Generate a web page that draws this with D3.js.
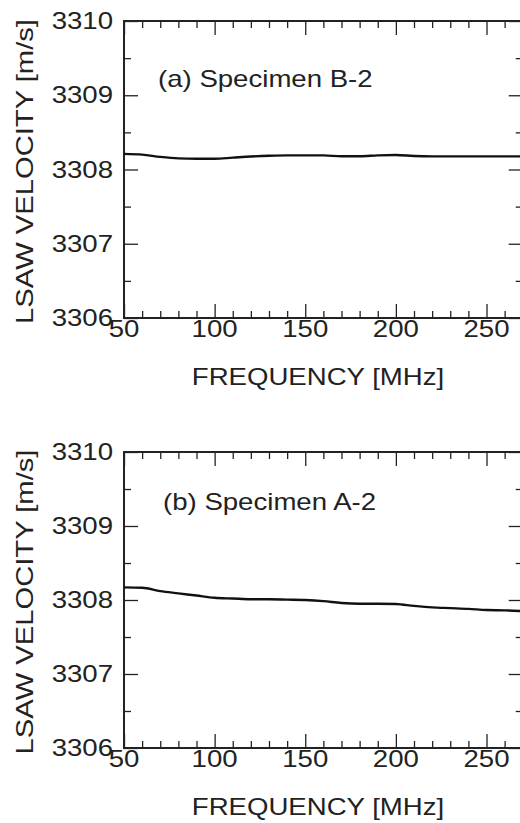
<!DOCTYPE html>
<html>
<head>
<meta charset="utf-8">
<script src="https://cdn.jsdelivr.net/npm/d3@7"></script>
<style>
  body { margin: 0; background: #fff; }
  svg { display: block; }
  text { font-family: "Liberation Sans", Arial, Helvetica, sans-serif; fill: #222; }
</style>
</head>
<body>
<div id="chart"></div>
<script>
// data
const freq = [50, 60, 70, 80, 90, 100, 110, 120, 130, 140, 150, 160, 170, 180, 190, 200, 210, 220, 230, 240, 250, 260, 270];
const velB2 = [3308.21, 3308.20, 3308.17, 3308.15, 3308.145, 3308.145, 3308.16, 3308.175, 3308.185, 3308.19, 3308.19, 3308.19, 3308.178,
  3308.178, 3308.19, 3308.195, 3308.182, 3308.177, 3308.177, 3308.177, 3308.177, 3308.177, 3308.177];
const velA2 = [3308.17, 3308.165, 3308.12, 3308.09, 3308.06, 3308.03, 3308.02, 3308.01, 3308.01, 3308.005, 3308.0, 3307.985, 3307.96,
  3307.95, 3307.95, 3307.945, 3307.92, 3307.90, 3307.89, 3307.88, 3307.865, 3307.86, 3307.85];
const xTicks = [50, 100, 150, 200, 250];
const xMinor = d3.range(60, 271, 10).filter(d => d % 50 != 0);
const yTicks = [3306, 3307, 3308, 3309, 3310];
const yMinor = [3306.5, 3307.5, 3308.5, 3309.5];

const panels = [
  {name: "(a) Specimen B-2", values: velB2, top: 21, bottom: 318, labelX: 158, labelDy: 66},
  {name: "(b) Specimen A-2", values: velA2, top: 452, bottom: 748, labelX: 163, labelDy: 58}
];

const W = 520, H = 823;
const left = 124, right = 522.75;
const fs = 23, sx = 1.2;   // the figure's font is wider than Arial

const svg = d3.select("#chart").append("svg")
  .attr("width", W)
  .attr("height", H);

const x = d3.scaleLinear().domain([50, 270]).range([left, right]);

function stretchedText(g, str, tx, ty, anchor, s) {
  return g.append("text")
    .attr("transform", "translate(" + tx + "," + ty + ") scale(" + (s || sx) + ",1)")
    .attr("text-anchor", anchor)
    .style("font-size", fs + "px")
    .text(str);
}

panels.forEach(p => {
  const y = d3.scaleLinear().domain([3306, 3310]).range([p.bottom, p.top]);
  const g = svg.append("g");

  // ticks, all pointing inward
  const addAxis = (axis, tx, ty) => {
    const a = g.append("g").attr("transform", "translate(" + tx + "," + ty + ")").call(axis);
    a.select(".domain").remove();
    a.selectAll("line").attr("stroke", "#222").attr("stroke-width", 1.3);
    a.selectAll("text").remove();
  };
  addAxis(d3.axisBottom(x).tickValues(xTicks).tickSize(-14), 0, p.bottom);
  addAxis(d3.axisBottom(x).tickValues(xMinor).tickSize(-7), 0, p.bottom);
  addAxis(d3.axisTop(x).tickValues(xTicks).tickSize(-14), 0, p.top);
  addAxis(d3.axisTop(x).tickValues(xMinor).tickSize(-7), 0, p.top);
  addAxis(d3.axisLeft(y).tickValues(yTicks).tickSize(-14), left, 0);
  addAxis(d3.axisLeft(y).tickValues(yMinor).tickSize(-7), left, 0);
  addAxis(d3.axisRight(y).tickValues(yTicks).tickSize(-14), right, 0);
  addAxis(d3.axisRight(y).tickValues(yMinor).tickSize(-7), right, 0);

  // frame
  g.append("rect")
    .attr("x", left).attr("y", p.top)
    .attr("width", right - left).attr("height", p.bottom - p.top)
    .attr("fill", "none").attr("stroke", "#222").attr("stroke-width", 2);

  // tick labels
  yTicks.forEach(v => stretchedText(g, v, 113, y(v) + 8, "end"));
  xTicks.forEach(v => stretchedText(g, v, x(v), p.bottom + 19, "middle"));

  // axis titles
  stretchedText(g, "FREQUENCY [MHz]", 318, p.bottom + 67, "middle");
  g.append("text")
    .attr("transform", "translate(33," + ((p.top + p.bottom) / 2 + 2) + ") rotate(-90) scale(1.27,1)")
    .attr("text-anchor", "middle")
    .style("font-size", fs + "px")
    .text("LSAW VELOCITY [m/s]");

  stretchedText(g, p.name, p.labelX, p.top + p.labelDy, "start");

  // data line
  g.append("path")
    .datum(p.values)
    .attr("fill", "none")
    .attr("stroke", "#111")
    .attr("stroke-width", 2.4)
    .attr("d", d3.line()
      .x((d, i) => x(freq[i]))
      .y(d => y(d))
      .curve(d3.curveMonotoneX));
});
</script>
</body>
</html>
